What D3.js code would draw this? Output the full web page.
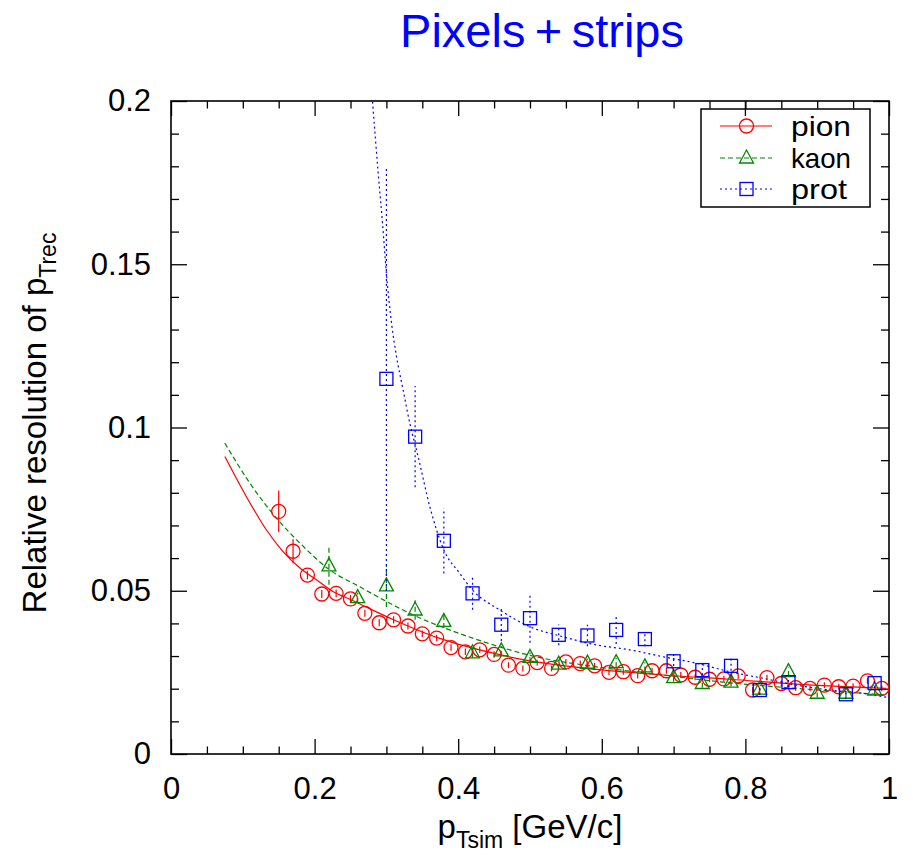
<!DOCTYPE html>
<html><head><meta charset="utf-8">
<script src="https://cdn.jsdelivr.net/npm/d3@7"></script>
<style>body{margin:0;background:#fff} text{font-family:"Liberation Sans",Arial,sans-serif}</style>
</head><body><svg id="c" width="913" height="855"></svg>
<script>
// ---- data ----
const pionX = [0.15,0.17,0.19,0.21,0.23,0.25,0.27,0.29,0.31,0.33,0.35,0.37,0.39,0.41,0.43,0.45,0.47,0.49,0.51,0.53,0.55,0.57,0.59,0.61,0.63,0.65,0.67,0.69,0.71,0.73,0.75,0.77,0.79,0.81,0.83,0.85,0.87,0.89,0.91,0.93,0.95,0.97,0.99];
const pionY = [0.0743,0.0621,0.0548,0.0490,0.0492,0.0475,0.0431,0.0402,0.0411,0.0392,0.0368,0.0355,0.0326,0.0313,0.0319,0.0305,0.0272,0.0262,0.0280,0.0262,0.0282,0.0277,0.0270,0.0250,0.0252,0.0240,0.0255,0.0255,0.0242,0.0235,0.0229,0.0230,0.0239,0.0196,0.0234,0.0216,0.0203,0.0201,0.0211,0.0206,0.0208,0.0224,0.0201];
const pionErr = [0.0064,0.0037,0.0013,0.0012,0.0012,0.0012,0.0011,0.0011,0.0011,0.0011,0.0010,0.0010,0.0010,0.0010,0.0010,0.0010,0.0009,0.0009,0.0009,0.0009,0.0009,0.0009,0.0009,0.0009,0.0009,0.0009,0.0009,0.0009,0.0009,0.0009,0.0009,0.0009,0.0009,0.0009,0.0009,0.0009,0.0009,0.0009,0.0009,0.0009,0.0009,0.0009,0.0009];

const kaonX = [0.22,0.26,0.30,0.34,0.38,0.42,0.46,0.50,0.54,0.58,0.62,0.66,0.70,0.74,0.78,0.82,0.86,0.90,0.94,0.98];
const kaonY = [0.0576,0.0479,0.0515,0.0441,0.0406,0.0310,0.0316,0.0296,0.0275,0.0278,0.0280,0.0267,0.0234,0.0216,0.0220,0.0199,0.0252,0.0186,0.0186,0.0196];
const kaonErr = [0.0058,0.0015,0.0065,0.0030,0.0020,0.0015,0.0015,0.0015,0.0014,0.0014,0.0014,0.0014,0.0013,0.0013,0.0013,0.0013,0.0013,0.0013,0.0013,0.0013];

const protX = [0.30,0.34,0.38,0.42,0.46,0.50,0.54,0.58,0.62,0.66,0.70,0.74,0.78,0.82,0.86,0.94,0.98];
const protY = [0.1149,0.0972,0.0653,0.0492,0.0396,0.0416,0.0365,0.0363,0.0380,0.0352,0.0284,0.0257,0.0270,0.0196,0.0220,0.0183,0.0217];
const protErr = [0.065,0.0155,0.010,0.005,0.005,0.0075,0.0032,0.0033,0.0043,0.0022,0.003,0.003,0.003,0.0015,0.0015,0.0015,0.0015];

// fitted curves
const pionFitX = [0.075,0.105,0.133,0.156,0.18,0.203,0.226,0.249,0.309,0.37,0.45,0.50,0.5925,0.685,0.778,0.871,0.996];
const pionFitY = [0.0911,0.0788,0.0686,0.0620,0.0569,0.0533,0.0497,0.0474,0.0412,0.0357,0.0308,0.0285,0.0259,0.0242,0.0229,0.0214,0.0201];
const kaonFitX = [0.075,0.110,0.147,0.18,0.221,0.263,0.296,0.342,0.388,0.435,0.50,0.5925,0.685,0.778,0.871,0.996];
const kaonFitY = [0.0952,0.0829,0.0722,0.0645,0.0564,0.0512,0.0472,0.0421,0.0380,0.0344,0.0302,0.0267,0.0242,0.0218,0.0201,0.0181];
const protFitX = [0.2807,0.2886,0.2946,0.300,0.3072,0.3141,0.3233,0.3326,0.3442,0.3605,0.380,0.4022,0.42,0.458,0.4997,0.546,0.5925,0.639,0.685,0.7317,0.778,0.8244,0.871,0.917,0.9636,0.996];
const protFitY = [0.1998,0.1778,0.1625,0.1472,0.1319,0.1217,0.1115,0.1013,0.0911,0.0757,0.0625,0.0553,0.0502,0.0441,0.0390,0.0359,0.0334,0.0319,0.0298,0.0278,0.0252,0.0232,0.0211,0.0196,0.0186,0.0174];

const xMajor = [0,0.2,0.4,0.6,0.8,1];
const xMinor = [0.05,0.1,0.15,0.25,0.3,0.35,0.45,0.5,0.55,0.65,0.7,0.75,0.85,0.9,0.95];
const yMajor = [0,0.05,0.1,0.15,0.2];
const yMinor = [0.01,0.02,0.03,0.04,0.06,0.07,0.08,0.09,0.11,0.12,0.13,0.14,0.16,0.17,0.18,0.19];
const xTickLabels = ["0","0.2","0.4","0.6","0.8","1"];
const yTickLabels = ["0","0.05","0.1","0.15","0.2"];

const names = ["pion","kaon","prot"];
const colors = ["#ff0000","#008800","#0000ff"];
const dashes = [null,"5,3","2,3"];

// ---- chart ----
const svg = d3.select("#c");
const x = d3.scaleLinear().domain([0,1]).range([171,889]);
const y = d3.scaleLinear().domain([0,0.2]).range([754,101]);

svg.append("defs").append("clipPath").attr("id","clip")
  .append("rect").attr("x",171).attr("y",101).attr("width",718).attr("height",653);

function axisG(axis, tx, ty){
  const g = svg.append("g").attr("transform",`translate(${tx},${ty})`).call(axis);
  g.select(".domain").remove();
  g.selectAll("line").attr("stroke","#000").attr("stroke-width",1.3);
  g.selectAll("text").attr("font-size",31).attr("fill","#000").attr("font-family","Liberation Sans, Arial, sans-serif");
  return g;
}
const fmtX = (d,i)=>xTickLabels[i], fmtY=(d,i)=>yTickLabels[i];
axisG(d3.axisBottom(x).tickValues(xMajor).tickSize(-15).tickPadding(23).tickFormat(fmtX),0,754);
axisG(d3.axisBottom(x).tickValues(xMinor).tickSize(-7.5).tickFormat(""),0,754);
axisG(d3.axisTop(x).tickValues(xMajor).tickSize(-15).tickFormat(""),0,101);
axisG(d3.axisTop(x).tickValues(xMinor).tickSize(-7.5).tickFormat(""),0,101);
axisG(d3.axisLeft(y).tickValues(yMajor).tickSize(-16).tickPadding(20).tickFormat(fmtY),171,0);
axisG(d3.axisLeft(y).tickValues(yMinor).tickSize(-8).tickFormat(""),171,0);
axisG(d3.axisRight(y).tickValues(yMajor).tickSize(-16).tickFormat(""),889,0);
axisG(d3.axisRight(y).tickValues(yMinor).tickSize(-8).tickFormat(""),889,0);

svg.append("rect").attr("x",171).attr("y",101).attr("width",718).attr("height",653)
  .attr("fill","none").attr("stroke","#000").attr("stroke-width",1.6);

const plot = svg.append("g").attr("clip-path","url(#clip)");
const line = d3.line().x(d=>x(d[0])).y(d=>y(d[1])).curve(d3.curveMonotoneX);

const fits = [[pionFitX,pionFitY],[kaonFitX,kaonFitY],[protFitX,protFitY]];
const series = [[pionX,pionY,pionErr],[kaonX,kaonY,kaonErr],[protX,protY,protErr]];

fits.forEach((f,i)=>{
  plot.append("path").datum(f[0].map((v,k)=>[v,f[1][k]]))
    .attr("d",line).attr("fill","none").attr("stroke",colors[i])
    .attr("stroke-width",1.2).attr("stroke-dasharray",dashes[i]);
});

function marker(g, i, cx, cy){
  if(i===0){
    g.append("circle").attr("cx",cx).attr("cy",cy).attr("r",7).attr("fill","none")
      .attr("stroke",colors[0]).attr("stroke-width",1.3);
  } else if(i===1){
    g.append("path").attr("d",`M${cx-7},${cy+5}L${cx+7},${cy+5}L${cx},${cy-8}Z`).attr("fill","none")
      .attr("stroke",colors[1]).attr("stroke-width",1.3);
  } else {
    g.append("rect").attr("x",cx-6.5).attr("y",cy-6.5).attr("width",13).attr("height",13).attr("fill","none")
      .attr("stroke",colors[2]).attr("stroke-width",1.3);
  }
}

series.forEach((s,i)=>{
  const g = plot.append("g");
  s[0].forEach((xv,k)=>{
    g.append("line").attr("x1",x(xv)).attr("x2",x(xv))
      .attr("y1",y(s[1][k]-s[2][k])).attr("y2",y(s[1][k]+s[2][k]))
      .attr("stroke",colors[i]).attr("stroke-width",1.2).attr("stroke-dasharray",dashes[i]);
    marker(g,i,x(xv),y(s[1][k]));
  });
});

// legend
const lg = svg.append("g");
lg.append("rect").attr("x",701).attr("y",109).attr("width",169).attr("height",98)
  .attr("fill","#fff").attr("stroke","#000").attr("stroke-width",1.5);
const legY = [126,158,189];
names.forEach((n,i)=>{
  lg.append("line").attr("x1",720).attr("x2",772).attr("y1",legY[i]).attr("y2",legY[i])
    .attr("stroke",colors[i]).attr("stroke-width",1.2).attr("stroke-dasharray",dashes[i]);
  marker(lg,i,746.5,legY[i]);
  lg.append("text").attr("x",791).attr("y",legY[i]+10).attr("font-size",28)
    .attr("textLength",i===2?56:60).attr("lengthAdjust","spacingAndGlyphs").text(n);
});
// top axis tick through legend (drawn over box as in reference)
svg.append("line").attr("x1",x(0.8)).attr("x2",x(0.8)).attr("y1",101).attr("y2",116).attr("stroke","#000").attr("stroke-width",1.3);

// title
svg.append("text").attr("x",542).attr("y",47).attr("text-anchor","middle")
  .attr("font-size",47).attr("fill","#0000ff").text("Pixels\u2009+\u2009strips");

// x title
const xt = svg.append("text").attr("x",530).attr("y",838).attr("text-anchor","middle").attr("font-size",33);
xt.append("tspan").text("p");
xt.append("tspan").attr("font-size",23).attr("dy",10).text("Tsim");
xt.append("tspan").attr("dy",-10).text(" [GeV/c]");

// y title
const yt = svg.append("text").attr("transform","translate(46,423) rotate(-90)").attr("text-anchor","middle").attr("font-size",33);
yt.append("tspan").text("Relative resolution of p");
yt.append("tspan").attr("font-size",23).attr("dy",10).text("Trec");
</script></body></html>
